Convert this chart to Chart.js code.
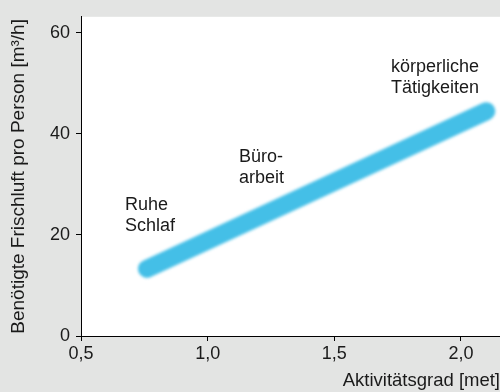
<!DOCTYPE html>
<html lang="de">
<head>
<meta charset="utf-8">
<title>Frischluftbedarf</title>
<script src="https://cdn.jsdelivr.net/npm/chart.js@4"></script>
<style>
  html, body { margin: 0; padding: 0; background: #e3e4e3; }
  #wrap { width: 500px; height: 392px; }
</style>
</head>
<body>
<div id="wrap"><canvas id="airChart" width="500" height="392"></canvas></div>
<script>
// Aktivitätsgrad (met) gegen Frischluftbedarf pro Person (m³/h)
const activity = [0.76, 2.1];
const airflow = [13.3, 44.5];

const xTicks = [0.5, 1.0, 1.5, 2.0];
const yTicks = [0, 20, 40, 60];

// Beschriftungen der Aktivitätsbereiche
const areaLabels = [
    ['Ruhe', 'Schlaf'],
    ['Büro-', 'arbeit'],
    ['körperliche', 'Tätigkeiten']
];
const areaX = [0.674, 1.124, 1.724];
const areaY = [25.9, 35.5, 53.2];

const FONT = "'Liberation Sans', Arial, sans-serif";

// weißer Plotbereich auf grauem Grund
const backdrop = {
    id: 'backdrop',
    beforeDraw(chart) {
        const { ctx, chartArea: a } = chart;
        ctx.save();
        ctx.fillStyle = '#e3e4e3';
        ctx.fillRect(0, 0, chart.width, chart.height);
        ctx.fillStyle = '#ffffff';
        ctx.fillRect(a.left, a.top, a.right - a.left, a.bottom - a.top);
        ctx.restore();
    }
};

// weicher Rand für das breite Band
const softBand = {
    id: 'softBand',
    beforeDatasetDraw(chart) {
        chart.ctx.save();
        chart.ctx.filter = 'blur(1.6px)';
    },
    afterDatasetDraw(chart) {
        chart.ctx.restore();
    }
};

const areaText = {
    id: 'areaText',
    afterDatasetsDraw(chart) {
        const { ctx, scales } = chart;
        ctx.save();
        ctx.font = '18px ' + FONT;
        ctx.fillStyle = '#1a1a1a';
        ctx.textAlign = 'left';
        ctx.textBaseline = 'middle';
        areaLabels.forEach((lines, i) => {
            const px = scales.x.getPixelForValue(areaX[i]);
            const py = scales.y.getPixelForValue(areaY[i]);
            lines.forEach((t, j) => ctx.fillText(t, px, py + j * 21));
        });
        ctx.restore();
    }
};

new Chart(document.getElementById('airChart'), {
    type: 'scatter',
    data: {
        datasets: [{
            data: activity.map((x, i) => ({ x: x, y: airflow[i] })),
            showLine: true,
            borderColor: '#44bfe7',
            borderWidth: 18,
            borderCapStyle: 'round',
            pointRadius: 0,
            pointHoverRadius: 0
        }]
    },
    options: {
        responsive: false,
        animation: false,
        events: [],
        layout: { padding: { top: 12, right: 0, bottom: 0, left: 0 } },
        plugins: {
            legend: { display: false },
            tooltip: { enabled: false }
        },
        scales: {
            x: {
                type: 'linear',
                min: 0.5,
                max: 2.154,
                afterBuildTicks: s => { s.ticks = xTicks.map(v => ({ value: v })); },
                afterFit: s => { s.height = 56; },
                border: { display: true, color: '#000', width: 1 },
                grid: { display: true, drawOnChartArea: false, tickLength: 5, color: '#000' },
                ticks: {
                    padding: 2,
                    color: '#1a1a1a',
                    font: { family: FONT, size: 18 },
                    callback: v => v.toFixed(1).replace('.', ',')
                },
                title: {
                    display: true,
                    text: 'Aktivitätsgrad [met]',
                    align: 'end',
                    color: '#1a1a1a',
                    font: { family: FONT, size: 18.5 },
                    padding: { top: 4, bottom: 0 }
                }
            },
            y: {
                min: 0,
                max: 63.2,
                afterBuildTicks: s => { s.ticks = yTicks.map(v => ({ value: v })); },
                afterFit: s => { s.width = 81; },
                border: { display: true, color: '#000', width: 1 },
                grid: { display: true, drawOnChartArea: false, tickLength: 5, color: '#000' },
                ticks: {
                    padding: 6,
                    color: '#1a1a1a',
                    font: { family: FONT, size: 18 }
                },
                title: {
                    display: true,
                    text: 'Benötigte Frischluft pro Person [m³/h]',
                    color: '#1a1a1a',
                    font: { family: FONT, size: 19 },
                    padding: { top: 7, bottom: 4 }
                }
            }
        }
    },
    plugins: [backdrop, softBand, areaText]
});
</script>
</body>
</html>
